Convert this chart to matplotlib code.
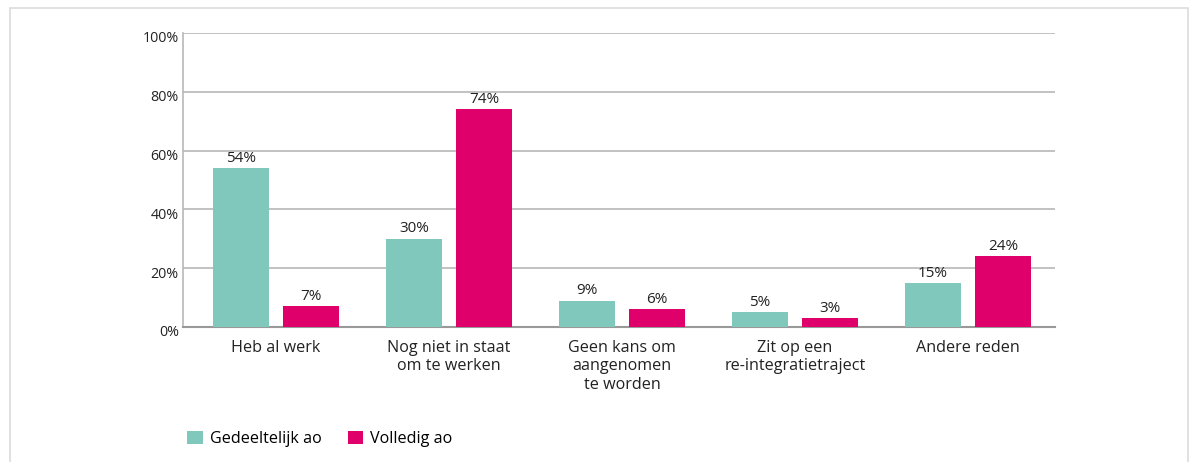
import matplotlib
matplotlib.use("Agg")
import matplotlib.pyplot as plt
from matplotlib.patches import Rectangle
from matplotlib.transforms import ScaledTranslation
import numpy as np

categories = ["Heb al werk", "Nog niet in staat\nom te werken", "Geen kans om\naangenomen\nte worden",
              "Zit op een\nre-integratietraject", "Andere reden"]
gedeeltelijk = [54, 30, 9, 5, 15]
volledig = [7, 74, 6, 3, 24]
series_names = ["Gedeeltelijk ao", "Volledig ao"]
yticks = [0, 20, 40, 60, 80, 100]

teal = "#80c8bb"
magenta = "#e0006b"
grid_c = "#b8b8b8"

plt.rcParams['font.family'] = ['Open Sans', 'DejaVu Sans']

W, H = 1191, 462
fig = plt.figure(figsize=(W/100, H/100), dpi=100)
ax = fig.add_axes([183/W, 1-327/H, (1055-183)/W, (327-33)/H])

x = np.arange(len(categories))
bw = 0.324
off = 0.202
b1 = ax.bar(x - off, gedeeltelijk, bw, color=teal, label=series_names[0], zorder=3)
b2 = ax.bar(x + off, volledig, bw, color=magenta, label=series_names[1], zorder=3)
for bars, vals in ((b1, gedeeltelijk), (b2, volledig)):
    for r, v in zip(bars, vals):
        ax.text(r.get_x() + r.get_width()/2, v + 0.8, f"{v}%", ha="center", va="bottom",
                fontsize=11, color="#222222")

ax.set_xlim(-0.538, 4.503)
ax.set_ylim(0, 100)
ax.set_yticks(yticks)
ax.set_yticklabels([f"{t}%" for t in yticks], fontsize=10.3, color="#222222")
ax.set_xticks(x)
ax.set_xticklabels(categories, fontsize=11.6, color="#222222", linespacing=1.22, va="top")
ax.tick_params(axis="both", length=0)
ax.tick_params(axis="x", pad=9)
ax.tick_params(axis="y", pad=3)
shift = ScaledTranslation(0, -4/100, fig.dpi_scale_trans)
for lab in ax.get_yticklabels():
    lab.set_transform(lab.get_transform() + shift)
ax.grid(axis="y", color=grid_c, linewidth=1.2, zorder=0)
for s in ["top", "right"]:
    ax.spines[s].set_visible(False)
ax.spines["left"].set_color(grid_c)
ax.spines["bottom"].set_color("#999999")
ax.spines["left"].set_linewidth(1.2)
ax.spines["bottom"].set_linewidth(1.5)

# frame around figure
fig.patches.append(Rectangle((10/W, -0.1), (1188-10)/W, 1.1 - 8/H, transform=fig.transFigure,
                             fill=False, edgecolor="#dcdcdc", linewidth=1.2))

# legend
fig.legend(handles=[b1, b2], labels=series_names, loc="upper left",
           bbox_to_anchor=(173/W, 1-416/H), ncol=2, frameon=False, fontsize=11.6,
           handlelength=0.95, handleheight=0.95, handletextpad=0.45, columnspacing=1.6)

fig.savefig("out.png", dpi=100)
